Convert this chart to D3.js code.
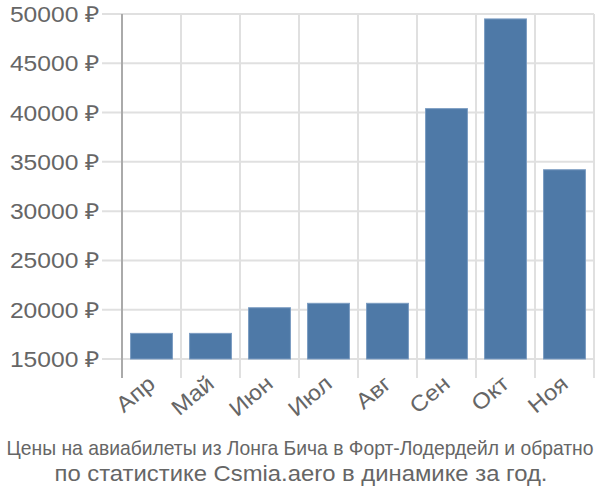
<!DOCTYPE html>
<html><head><meta charset="utf-8">
<script src="https://cdn.jsdelivr.net/npm/d3@7"></script>
<style>body{margin:0;background:#fff}text{font-family:"Liberation Sans",Arial,sans-serif}</style>
</head><body>
<svg id="c" width="600" height="500"></svg>
<script>
const categories = ["Апр","Май","Июн","Июл","Авг","Сен","Окт","Ноя"];
const values = [17600, 17600, 20200, 20650, 20650, 40400, 49500, 34200];
const yTicks = [15000,20000,25000,30000,35000,40000,45000,50000];
const titleLines = ["Цены на авиабилеты из Лонга Бича в Форт-Лодердейл и обратно","по статистике Csmia.aero в динамике за год."];

const svg = d3.select("#c");
const m = {l:122, r:594, t:14, b:359};
const x = d3.scaleBand().domain(categories).range([m.l, m.r]).paddingInner(0.29).paddingOuter(0.145);
const y = d3.scaleLinear().domain([15000,50000]).range([m.b, m.t]);
const band = d3.scaleBand().domain(categories).range([m.l, m.r]);

// horizontal grid
svg.append("g").selectAll("line").data(yTicks).join("line")
  .attr("x1", m.l-20).attr("x2", m.r).attr("y1", d=>y(d)).attr("y2", d=>y(d))
  .attr("stroke","#e0e0e0").attr("stroke-width",2);
// vertical grid
const vx = categories.map(c=>band(c)).concat([m.r]);
svg.append("g").selectAll("line").data(vx.slice(1)).join("line")
  .attr("x1", d=>d).attr("x2", d=>d).attr("y1", m.t).attr("y2", m.b+19)
  .attr("stroke","#e0e0e0").attr("stroke-width",2);
// y axis line
svg.append("line").attr("x1",m.l).attr("x2",m.l).attr("y1",m.t).attr("y2",m.b+19)
  .attr("stroke","#aaa").attr("stroke-width",2);

// bars
svg.append("g").selectAll("rect").data(values).join("rect")
  .attr("x",(d,i)=>x(categories[i])).attr("width",x.bandwidth())
  .attr("y",d=>y(d)).attr("height",d=>y(15000)-y(d))
  .attr("fill","#4e79a7").attr("stroke","#7b9cc2").attr("stroke-width",1);

// y labels
svg.append("g").selectAll("text").data(yTicks).join("text")
  .attr("transform", d=>`translate(${m.l-22},${y(d)}) scale(1.12,1)`)
  .attr("dy","0.36em")
  .attr("text-anchor","end").attr("font-size",22).attr("fill","#666")
  .text(d=>d+" ₽");

// x labels
svg.append("g").selectAll("text").data(categories).join("text")
  .attr("transform", c=>`translate(${band(c)+band.bandwidth()/2+5},${m.b+27}) rotate(-40) scale(1.1,1)`)
  .attr("text-anchor","end").attr("font-size",22).attr("fill","#666")
  .text(c=>c);

// title
svg.append("text").attr("transform","translate(300,455) scale(0.965,1)").attr("text-anchor","middle")
  .attr("font-size",20).attr("fill","#666")
  .text(titleLines[0]);
svg.append("text").attr("x",301).attr("y",481).attr("text-anchor","middle")
  .attr("font-size",22).attr("fill","#666")
  .attr("textLength",493).attr("lengthAdjust","spacingAndGlyphs")
  .text(titleLines[1]);
</script>
</body></html>
